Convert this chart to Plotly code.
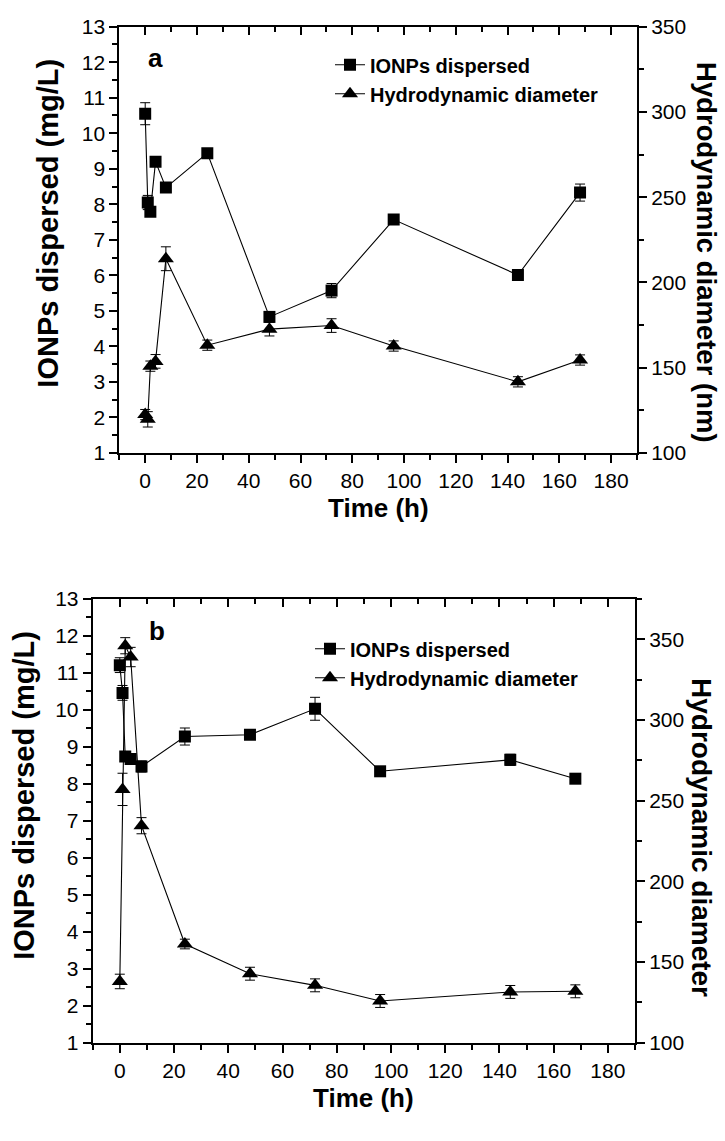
import plotly.graph_objects as go

W, H = 725, 1141

# ---------------- data ----------------
time_h = [0, 1, 2, 4, 8, 24, 48, 72, 96, 144, 168]

a_ionp = [10.55, 8.05, 7.79, 9.20, 8.47, 9.44, 4.83, 5.57, 7.57, 6.01, 8.33]
a_ionp_err = [0.31, 0.20, 0.08, 0.08, 0.08, 0.08, 0.10, 0.20, 0.05, 0.05, 0.24]
a_hd = [122.5, 119.7, 150.9, 153.7, 213.9, 163.2, 172.6, 174.7, 162.7, 141.7, 154.5]
a_hd_err = [3, 4.5, 3, 4, 7, 3, 4, 4, 3, 3, 3]

b_ionp = [11.21, 10.46, 8.74, 8.67, 8.47, 9.28, 9.33, 10.03, 8.34, 8.65, 8.14]
b_ionp_err = [0.20, 0.20, 0.10, 0.08, 0.15, 0.23, 0.08, 0.31, 0.05, 0.15, 0.05]
b_hd = [138.0, 257.0, 346.0, 339.0, 234.5, 161.2, 142.8, 135.6, 125.9, 131.5, 131.9]
b_hd_err = [4.5, 10, 5, 6, 5, 3, 4, 4, 4, 4, 4]

x_ticks = [0, 20, 40, 60, 80, 100, 120, 140, 160, 180]
left_ticks = list(range(1, 14))
right_ticks = [100, 150, 200, 250, 300, 350]

FONT = "Liberation Sans, Arial, sans-serif"

# ---------------- geometry (pixels) ----------------
A = dict(l=119.3, r=637, t=15, b=450)
B = dict(l=92.7, r=635, t=599, b=1052)


def xd(p):
    return [p["l"] / W, p["r"] / W]


def yd(p):
    return [1 - p["b"] / H, 1 - p["t"] / H]


fig = go.Figure()


def add_pair(ionp, ionp_err, hd, hd_err, xa, ya_l, ya_r, legend):
    fig.add_trace(go.Scatter(
        x=time_h, y=ionp, mode="lines+markers", name="IONPs dispersed",
        xaxis=xa, yaxis=ya_l, legend=legend,
        line=dict(color="black", width=1.1),
        marker=dict(symbol="square", size=12, color="black"),
        error_y=dict(type="data", array=ionp_err, visible=True,
                     color="black", thickness=1, width=5),
    ))
    fig.add_trace(go.Scatter(
        x=time_h, y=hd, mode="lines+markers", name="Hydrodynamic diameter",
        xaxis=xa, yaxis=ya_r, legend=legend,
        line=dict(color="black", width=1.1),
        marker=dict(symbol="triangle-up", size=14, color="black"),
        error_y=dict(type="data", array=hd_err, visible=True,
                     color="black", thickness=1, width=5),
    ))


add_pair(a_ionp, a_ionp_err, a_hd, a_hd_err, "x", "y", "y2", "legend")
add_pair(b_ionp, b_ionp_err, b_hd, b_hd_err, "x3", "y3", "y4", "legend2")

tickfont = dict(family=FONT, size=21, color="black")
common_axis = dict(showgrid=False, zeroline=False, showline=True,
                   linecolor="black", linewidth=2, tickcolor="black",
                   tickwidth=1.5, tickfont=tickfont)


def xaxis_bottom(dom, anchor):
    return dict(domain=dom, anchor=anchor, range=[-10, 190],
                tickmode="array", tickvals=x_ticks, ticks="outside", ticklen=8,
                minor=dict(dtick=10, tick0=0, ticks="outside", ticklen=5,
                           tickcolor="black", tickwidth=1.5),
                **common_axis)


def xaxis_top(over, anchor):
    return dict(overlaying=over, anchor=anchor, side="top", range=[-10, 190],
                tickmode="array", tickvals=x_ticks, ticks="inside", ticklen=8,
                showticklabels=False,
                minor=dict(dtick=10, tick0=0, ticks="inside", ticklen=5,
                           tickcolor="black", tickwidth=1.5),
                **common_axis)


def yaxis_left(dom, anchor):
    return dict(domain=dom, anchor=anchor, range=[1, 13],
                tickmode="array", tickvals=left_ticks, ticks="outside", ticklen=8,
                minor=dict(dtick=0.5, tick0=1, ticks="outside", ticklen=5,
                           tickcolor="black", tickwidth=1.5),
                **common_axis)


def yaxis_right(over, anchor, rng):
    return dict(overlaying=over, anchor=anchor, side="right", range=rng,
                tickmode="array", tickvals=right_ticks, ticks="outside", ticklen=8,
                minor=dict(dtick=25, tick0=100, ticks="outside", ticklen=5,
                           tickcolor="black", tickwidth=1.5),
                **common_axis)


legend_font = dict(family=FONT, size=20, color="black", weight="bold")

fig.update_layout(
    width=W, height=H,
    margin=dict(l=0, r=0, t=0, b=0),
    paper_bgcolor="white", plot_bgcolor="white",
    xaxis=xaxis_bottom(xd(A), "y"),
    xaxis2=xaxis_top("x", "y"),
    yaxis=yaxis_left(yd(A), "x"),
    yaxis2=yaxis_right("y", "x", [100, 350]),
    xaxis3=xaxis_bottom(xd(B), "y3"),
    xaxis4=xaxis_top("x3", "y3"),
    yaxis3=yaxis_left(yd(B), "x3"),
    yaxis4=yaxis_right("y3", "x3", [100, 375]),
    legend=dict(x=330 / W, y=1 - 34 / H, xanchor="left", yanchor="top",
                font=legend_font, bgcolor="rgba(0,0,0,0)", borderwidth=0),
    legend2=dict(x=310 / W, y=1 - 630 / H, xanchor="left", yanchor="top",
                 font=legend_font, bgcolor="rgba(0,0,0,0)", borderwidth=0),
    showlegend=True,
)

# Dummy traces so the top mirror axes render
fig.add_trace(go.Scatter(x=[None], y=[None], xaxis="x2", yaxis="y",
                         showlegend=False, hoverinfo="skip"))
fig.add_trace(go.Scatter(x=[None], y=[None], xaxis="x4", yaxis="y3",
                         showlegend=False, hoverinfo="skip"))

title_font = dict(family=FONT, size=26, color="black", weight="bold")


def ann(text, x, y, angle=0, size=26):
    f = dict(title_font)
    f["size"] = size
    fig.add_annotation(text=text, x=x / W, y=1 - y / H, xref="paper", yref="paper",
                       showarrow=False, textangle=angle, font=f,
                       xanchor="center", yanchor="middle")


# panel a
ann("IONPs dispersed (mg/L)", 48, 216, -90, 29)
ann("Hydrodynamic diameter (nm)", 707, 245, 90, 27.5)
ann("Time (h)", (A["l"] + A["r"]) / 2, 506, 0, 26)
ann("a", 155, 47, 0, 26)
# panel b
ann("IONPs dispersed (mg/L)", 24, 800, -90, 29)
ann("Hydrodynamic diameter", 702, 842, 90, 28)
ann("Time (h)", (B["l"] + B["r"]) / 2, 1108, 0, 26)
ann("b", 157, 632, 0, 26)

fig.write_html("out.html")
